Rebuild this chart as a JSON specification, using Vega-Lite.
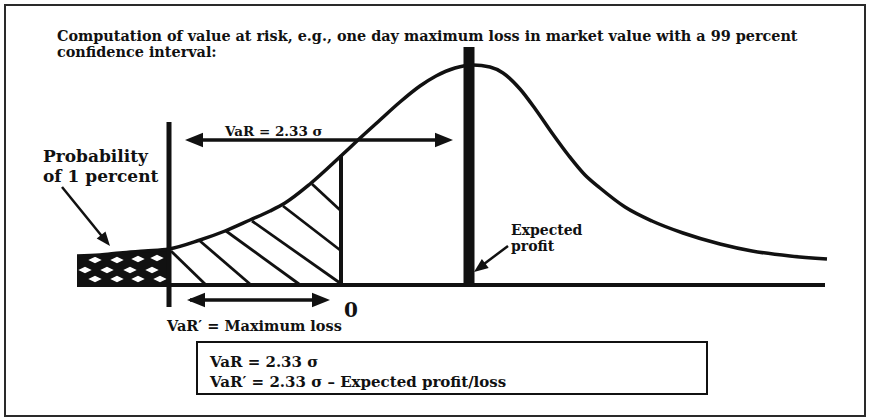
{
  "$schema": "https://vega.github.io/schema/vega-lite/v6.json",
  "width": 870,
  "height": 418,
  "autosize": {"type": "fit", "contains": "padding"},
  "padding": 0,
  "background": "white",
  "config": {"view": {"stroke": null}},
  "datasets": {
    "curve": [
      {"x": 77, "y": 256}, {"x": 100, "y": 255}, {"x": 120, "y": 253}, {"x": 145, "y": 251},
      {"x": 169, "y": 249}, {"x": 200, "y": 240}, {"x": 225, "y": 231}, {"x": 250, "y": 220},
      {"x": 270, "y": 211}, {"x": 285, "y": 203}, {"x": 310, "y": 184}, {"x": 342, "y": 155},
      {"x": 358, "y": 140}, {"x": 380, "y": 120}, {"x": 400, "y": 102}, {"x": 420, "y": 86},
      {"x": 436, "y": 76}, {"x": 455, "y": 68}, {"x": 473, "y": 65}, {"x": 490, "y": 67},
      {"x": 503, "y": 73}, {"x": 520, "y": 89}, {"x": 536, "y": 110}, {"x": 552, "y": 133},
      {"x": 569, "y": 156}, {"x": 585, "y": 175}, {"x": 600, "y": 188}, {"x": 625, "y": 207},
      {"x": 652, "y": 221}, {"x": 683, "y": 233}, {"x": 720, "y": 244}, {"x": 752, "y": 251},
      {"x": 790, "y": 256}, {"x": 827, "y": 259}
    ],
    "segments": [
      {"kind": "axis", "x": 77, "y": 285, "x2": 825, "y2": 285},
      {"kind": "var", "x": 169, "y": 122, "x2": 169, "y2": 307},
      {"kind": "axis", "x": 341, "y": 155, "x2": 341, "y2": 285},
      {"kind": "mean", "x": 469, "y": 47, "x2": 469, "y2": 285},
      {"kind": "arrow", "x": 190, "y": 140, "x2": 448, "y2": 140},
      {"kind": "arrow", "x": 190, "y": 300, "x2": 325, "y2": 300},
      {"kind": "pointer", "x": 62, "y": 187, "x2": 105, "y2": 240},
      {"kind": "pointer", "x": 508, "y": 246, "x2": 480, "y2": 267},
      {"kind": "hatch", "x": 171, "y": 251, "x2": 205, "y2": 284},
      {"kind": "hatch", "x": 200, "y": 241, "x2": 250, "y2": 284},
      {"kind": "hatch", "x": 226, "y": 231, "x2": 299, "y2": 284},
      {"kind": "hatch", "x": 252, "y": 221, "x2": 340, "y2": 283},
      {"kind": "hatch", "x": 283, "y": 206, "x2": 340, "y2": 250},
      {"kind": "hatch", "x": 312, "y": 184, "x2": 340, "y2": 210}
    ],
    "heads": [
      {"kind": "big", "x": 185, "y": 140, "dir": 180},
      {"kind": "big", "x": 453, "y": 140, "dir": 0},
      {"kind": "big", "x": 187, "y": 300, "dir": 180},
      {"kind": "big", "x": 330, "y": 300, "dir": 0},
      {"kind": "small", "x": 110, "y": 246, "dir": 51},
      {"kind": "small", "x": 474, "y": 272, "dir": 143}
    ],
    "holes": [
      {"x": 95, "y": 260}, {"x": 117, "y": 260}, {"x": 138, "y": 259}, {"x": 157, "y": 258},
      {"x": 85, "y": 270}, {"x": 107, "y": 270}, {"x": 130, "y": 270}, {"x": 152, "y": 270},
      {"x": 95, "y": 279}, {"x": 117, "y": 279}, {"x": 138, "y": 279}, {"x": 160, "y": 279}
    ],
    "labels": [
      {"role": "title", "t": "Computation of value at risk, e.g., one day maximum loss in market value with a 99 percent", "x": 57, "y": 37},
      {"role": "title", "t": "confidence interval:", "x": 57, "y": 53},
      {"role": "var", "t": "VaR = 2.33 σ", "x": 225, "y": 132},
      {"role": "prob", "t": "Probability", "x": 43, "y": 157},
      {"role": "prob", "t": "of 1 percent", "x": 43, "y": 177},
      {"role": "exp", "t": "Expected", "x": 511, "y": 231},
      {"role": "exp", "t": "profit", "x": 511, "y": 247},
      {"role": "zero", "t": "0", "x": 344, "y": 311},
      {"role": "max", "t": "VaR′ = Maximum loss", "x": 167, "y": 327},
      {"role": "box", "t": "VaR = 2.33 σ", "x": 210, "y": 362},
      {"role": "box", "t": "VaR′ = 2.33 σ – Expected profit/loss", "x": 210, "y": 382}
    ]
  },
  "encoding": {
    "x": {"field": "x", "type": "quantitative", "scale": {"domain": [0, 870], "nice": false, "zero": false}, "axis": null},
    "y": {"field": "y", "type": "quantitative", "scale": {"domain": [0, 418], "nice": false, "zero": false, "reverse": true}, "axis": null}
  },
  "layer": [
    {
      "data": {"values": [{"x": 5, "y": 5, "x2": 865, "y2": 416}]},
      "mark": {"type": "rect", "fill": "white", "fillOpacity": 0, "stroke": "#2a2a2a", "strokeWidth": 2},
      "encoding": {"x2": {"field": "x2"}, "y2": {"field": "y2"}}
    },
    {
      "data": {"values": [{"x": 197, "y": 342, "x2": 707, "y2": 394}]},
      "mark": {"type": "rect", "fill": "white", "fillOpacity": 0, "stroke": "#111", "strokeWidth": 2},
      "encoding": {"x2": {"field": "x2"}, "y2": {"field": "y2"}}
    },
    {
      "data": {"name": "curve"},
      "transform": [{"filter": "datum.x <= 169"}],
      "mark": {"type": "area", "color": "#111", "interpolate": "monotone"},
      "encoding": {"y2": {"datum": 285}}
    },
    {
      "data": {"name": "holes"},
      "mark": {"type": "point", "shape": "M -1 0 L 0 -0.5 L 1 0 L 0 0.5 Z", "filled": true, "fill": "white", "opacity": 1, "strokeWidth": 0, "size": 180}
    },
    {
      "data": {"name": "curve"},
      "mark": {"type": "line", "color": "#111", "strokeWidth": 3.5, "interpolate": "monotone"}
    },
    {
      "data": {"name": "segments"},
      "transform": [{"filter": "datum.kind === 'axis'"}],
      "mark": {"type": "rule", "color": "#111", "strokeWidth": 4},
      "encoding": {"x2": {"field": "x2"}, "y2": {"field": "y2"}}
    },
    {
      "data": {"name": "segments"},
      "transform": [{"filter": "datum.kind === 'var'"}],
      "mark": {"type": "rule", "color": "#111", "strokeWidth": 5},
      "encoding": {"x2": {"field": "x2"}, "y2": {"field": "y2"}}
    },
    {
      "data": {"name": "segments"},
      "transform": [{"filter": "datum.kind === 'mean'"}],
      "mark": {"type": "rule", "color": "#111", "strokeWidth": 11},
      "encoding": {"x2": {"field": "x2"}, "y2": {"field": "y2"}}
    },
    {
      "data": {"name": "segments"},
      "transform": [{"filter": "datum.kind === 'arrow'"}],
      "mark": {"type": "rule", "color": "#111", "strokeWidth": 3.5},
      "encoding": {"x2": {"field": "x2"}, "y2": {"field": "y2"}}
    },
    {
      "data": {"name": "segments"},
      "transform": [{"filter": "datum.kind === 'hatch'"}],
      "mark": {"type": "rule", "color": "#111", "strokeWidth": 2.8},
      "encoding": {"x2": {"field": "x2"}, "y2": {"field": "y2"}}
    },
    {
      "data": {"name": "segments"},
      "transform": [{"filter": "datum.kind === 'pointer'"}],
      "mark": {"type": "rule", "color": "#111", "strokeWidth": 2.5},
      "encoding": {"x2": {"field": "x2"}, "y2": {"field": "y2"}}
    },
    {
      "data": {"name": "heads"},
      "transform": [{"filter": "datum.kind === 'big'"}],
      "mark": {"type": "point", "shape": "M 0 0 L -2 -0.8 L -2 0.8 Z", "filled": true, "color": "#111", "opacity": 1, "size": 324},
      "encoding": {"angle": {"field": "dir", "type": "quantitative", "scale": null}}
    },
    {
      "data": {"name": "heads"},
      "transform": [{"filter": "datum.kind === 'small'"}],
      "mark": {"type": "point", "shape": "M 0 0 L -2 -0.8 L -2 0.8 Z", "filled": true, "color": "#111", "opacity": 1, "size": 200},
      "encoding": {"angle": {"field": "dir", "type": "quantitative", "scale": null}}
    },
    {
      "data": {"name": "labels"},
      "transform": [{"filter": "datum.role === 'title'"}],
      "mark": {"type": "text", "align": "left", "baseline": "middle", "font": "DejaVu Serif", "fontWeight": "bold", "fontSize": 14.4, "color": "#111"},
      "encoding": {"text": {"field": "t"}}
    },
    {
      "data": {"name": "labels"},
      "transform": [{"filter": "datum.role === 'var'"}],
      "mark": {"type": "text", "align": "left", "baseline": "middle", "font": "DejaVu Serif", "fontWeight": "bold", "fontSize": 13.5, "color": "#111"},
      "encoding": {"text": {"field": "t"}}
    },
    {
      "data": {"name": "labels"},
      "transform": [{"filter": "datum.role === 'prob'"}],
      "mark": {"type": "text", "align": "left", "baseline": "middle", "font": "DejaVu Serif", "fontWeight": "bold", "fontSize": 17, "color": "#111"},
      "encoding": {"text": {"field": "t"}}
    },
    {
      "data": {"name": "labels"},
      "transform": [{"filter": "datum.role === 'exp'"}],
      "mark": {"type": "text", "align": "left", "baseline": "middle", "font": "DejaVu Serif", "fontWeight": "bold", "fontSize": 14, "color": "#111"},
      "encoding": {"text": {"field": "t"}}
    },
    {
      "data": {"name": "labels"},
      "transform": [{"filter": "datum.role === 'zero'"}],
      "mark": {"type": "text", "align": "left", "baseline": "middle", "font": "DejaVu Serif", "fontWeight": "bold", "fontSize": 20, "color": "#111"},
      "encoding": {"text": {"field": "t"}}
    },
    {
      "data": {"name": "labels"},
      "transform": [{"filter": "datum.role === 'max'"}],
      "mark": {"type": "text", "align": "left", "baseline": "middle", "font": "DejaVu Serif", "fontWeight": "bold", "fontSize": 14.5, "color": "#111"},
      "encoding": {"text": {"field": "t"}}
    },
    {
      "data": {"name": "labels"},
      "transform": [{"filter": "datum.role === 'box'"}],
      "mark": {"type": "text", "align": "left", "baseline": "middle", "font": "DejaVu Serif", "fontWeight": "bold", "fontSize": 15, "color": "#111"},
      "encoding": {"text": {"field": "t"}}
    }
  ]
}
